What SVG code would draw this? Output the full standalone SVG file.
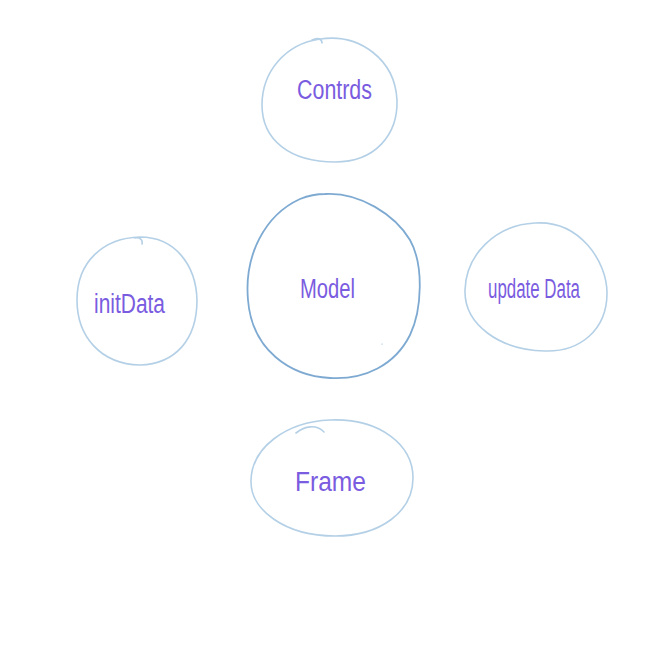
<svg xmlns="http://www.w3.org/2000/svg" width="660" height="660" viewBox="0 0 660 660">
<style>
.blob{fill:none;stroke:#b4d0e6;stroke-width:1.6;stroke-linecap:round;stroke-linejoin:round}
.blob.main{stroke:#7eaad2;stroke-width:1.8}
.lbl{font-family:"Liberation Sans","DejaVu Sans",sans-serif;fill:#7a5ce0;font-size:27px;font-weight:normal}
</style>
<rect width="660" height="660" fill="#ffffff"/>
<g id="connectors"></g>
<g id="controls">
<path class="blob" d="M 320,39 C 360,33 395,60 397,100 C 398,135 375,162 335,162 C 290,162 262,140 262,105 C 262,72 285,44 320,39 Z M 312,40 C 318,37 322,39 322,43"/>
<text class="lbl" x="297" y="99" textLength="75" lengthAdjust="spacingAndGlyphs">Contrds</text>
</g>
<g id="model">
<path class="blob main" d="M 325,194 C 360,192 395,215 410,240 C 424,265 422,310 410,335 C 395,365 365,380 330,378 C 290,376 252,350 248,300 C 244,255 265,215 300,199 C 310,195 318,194 325,194 Z"/>
<circle cx="382" cy="344" r="0.6" fill="#7eaad2"/>
<text class="lbl" x="300" y="298" textLength="55" lengthAdjust="spacingAndGlyphs">Model</text>
</g>
<g id="initData">
<path class="blob" d="M 140,237 C 175,237 196,265 197,300 C 197,340 175,364 140,365 C 100,364 77,336 77,300 C 77,262 103,238 140,237 Z M 135,238 C 140,237 143,240 142,244"/>
<text class="lbl" x="94" y="313" textLength="71" lengthAdjust="spacingAndGlyphs">initData</text>
</g>
<g id="updateData">
<path class="blob" d="M 535,223 C 580,220 607,262 607,293 C 607,330 580,352 545,351 C 500,350 464,325 465,290 C 466,255 495,225 535,223 Z"/>
<text class="lbl" x="488" y="298" textLength="92" lengthAdjust="spacingAndGlyphs">update Data</text>
</g>
<g id="frame">
<path class="blob" d="M 330,420 C 380,418 413,445 413,478 C 413,512 380,536 335,536 C 285,536 250,510 251,480 C 252,448 285,422 330,420 Z M 296,433 C 305,426 316,424 324,432"/>
<text class="lbl" x="295" y="491" textLength="71" lengthAdjust="spacingAndGlyphs">Frame</text>
</g>
</svg>
